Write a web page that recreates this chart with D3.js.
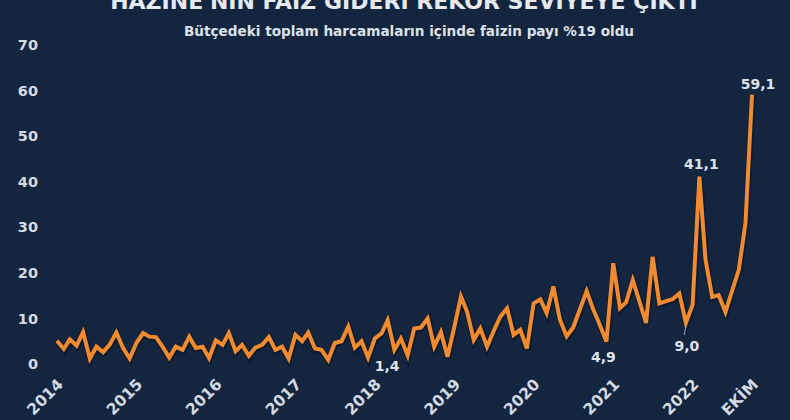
<!DOCTYPE html>
<html>
<head>
<meta charset="utf-8">
<script src="https://cdn.jsdelivr.net/npm/d3@7"></script>
<style>
  html, body { margin: 0; padding: 0; background: #13253f; }
  svg { display: block; }
  text { font-family: "DejaVu Sans", Verdana, sans-serif; font-weight: bold; }
</style>
</head>
<body>
<svg id="chart" width="790" height="420"></svg>
<script>
// ---- data (billion TL, monthly, Jan 2014 – Oct 2022) ----
const title = "HAZİNE'NİN FAİZ GİDERİ REKOR SEVİYEYE ÇIKTI";
const subtitle = "Bütçedeki toplam harcamaların içinde faizin payı %19 oldu";
const startYear = 2014;
const v2014 = [5.1, 3.3, 5.4, 4.0, 7.0, 1.2, 3.8, 2.6, 4.3, 6.9, 3.5, 1.2];
const v2015 = [4.6, 6.8, 6.0, 5.9, 3.8, 1.4, 3.8, 3.1, 6.0, 3.5, 3.8, 1.3];
const v2016 = [5.2, 4.2, 6.8, 2.8, 4.2, 1.8, 3.6, 4.2, 5.9, 3.1, 3.8, 1.2];
const v2017 = [6.4, 5.0, 6.9, 3.4, 3.1, 0.9, 4.6, 5.0, 8.2, 3.6, 5.0, 1.4];
const v2018 = [5.6, 6.7, 9.6, 3.1, 5.6, 1.9, 7.8, 8.0, 10.0, 3.8, 7.0, 1.6];
const v2019 = [8.0, 14.8, 11.5, 5.3, 7.8, 3.8, 7.2, 10.4, 12.2, 6.4, 7.5, 3.4];
const v2020 = [13.3, 14.2, 11.2, 17.0, 9.7, 6.1, 8.0, 12.0, 16.0, 12.0, 8.5, 4.9];
const v2021 = [22.1, 12.3, 13.5, 18.4, 13.8, 9.0, 23.5, 13.3, 13.8, 14.2, 15.5, 9.0];
const v2022 = [13.0, 41.1, 23.0, 14.7, 15.1, 11.4, 16.0, 20.6, 30.9, 59.1];
const yTicks = [0, 10, 20, 30, 40, 50, 60, 70];
const xTickYears = [2014, 2015, 2016, 2017, 2018, 2019, 2020, 2021, 2022];
const lastLabel = "EKİM";
const annotations = [
  { month: 47, text: "1,4" },
  { month: 83, text: "4,9" },
  { month: 95, text: "9,0" },
  { month: 97, text: "41,1" },
  { month: 105, text: "59,1" }
];

// ---- build ----
const values = [].concat(v2014, v2015, v2016, v2017, v2018, v2019, v2020, v2021, v2022);
const series = values.map((v, i) => ({ date: new Date(startYear, i, 1), value: v, i }));

const svg = d3.select("#chart");
const W = 790, H = 420;
svg.append("rect").attr("width", W).attr("height", H).attr("fill", "#13253f");

const x = d3.scaleTime()
  .domain([series[0].date, series[series.length - 1].date])
  .range([57, 752]);
const y = d3.scaleLinear().domain([0, 70]).range([364, 45]);

// title & subtitle
svg.append("text").attr("x", 404).attr("y", 9).attr("text-anchor", "middle")
  .attr("fill", "#e6e9ee").attr("font-size", 22).text(title);
svg.append("text").attr("x", 409).attr("y", 36).attr("text-anchor", "middle")
  .attr("fill", "#dde1e8").attr("font-size", 13.6).text(subtitle);

// y axis
const yAxis = svg.append("g").attr("transform", "translate(38,0)")
  .call(d3.axisLeft(y).tickValues(yTicks).tickSize(0).tickPadding(0));
yAxis.select(".domain").remove();
yAxis.selectAll("text").attr("fill", "#d5dae2").attr("font-size", 14.5)
  .attr("font-family", "DejaVu Sans").attr("font-weight", "bold");

// x axis
const xDates = xTickYears.map(yr => new Date(yr, 0, 1)).concat([series[series.length - 1].date]);
const xAxis = svg.append("g").attr("transform", "translate(0,380)")
  .call(d3.axisBottom(x).tickValues(xDates).tickSize(0).tickPadding(0)
    .tickFormat(d => (d.getMonth() === 0 ? d.getFullYear() : lastLabel)));
xAxis.select(".domain").remove();
xAxis.selectAll("text")
  .attr("fill", "#d5dae2").attr("font-size", 15.5)
  .attr("font-family", "DejaVu Sans").attr("font-weight", "bold")
  .attr("text-anchor", "end")
  .attr("dy", "0.55em").attr("dx", "0.05em")
  .attr("transform", "rotate(-45)");

// line with dark halo
const line = d3.line().x(d => x(d.date)).y(d => y(d.value)).curve(d3.curveLinear);
svg.append("path").datum(series).attr("d", line)
  .attr("fill", "none").attr("stroke", "#0a1424").attr("stroke-opacity", 0.55)
  .attr("stroke-width", 6.5).attr("stroke-linejoin", "miter").attr("transform", "translate(0.5,1)");
svg.append("path").datum(series).attr("d", line)
  .attr("fill", "none").attr("stroke", "#f28b30")
  .attr("stroke-width", 4).attr("stroke-linejoin", "miter");

// annotations
const annOffset = {
  "1,4": [19, 13, false],
  "4,9": [-3, 20, false],
  "9,0": [1, 28, true],
  "41,1": [2, -8, false],
  "59,1": [6, -6, false]
};
annotations.forEach(a => {
  const d = series[a.month];
  const px = x(d.date), py = y(d.value);
  const [dx, dy, leader] = annOffset[a.text];
  if (leader) {
    svg.append("line").attr("x1", px).attr("y1", py + 3).attr("x2", px - 1.5).attr("y2", py + 12)
      .attr("stroke", "#9fb0c8").attr("stroke-width", 1);
  }
  svg.append("text").attr("x", px + dx).attr("y", py + dy)
    .attr("text-anchor", "middle").attr("fill", "#dfe3ea").attr("font-size", 14)
    .text(a.text);
});
</script>
</body>
</html>
